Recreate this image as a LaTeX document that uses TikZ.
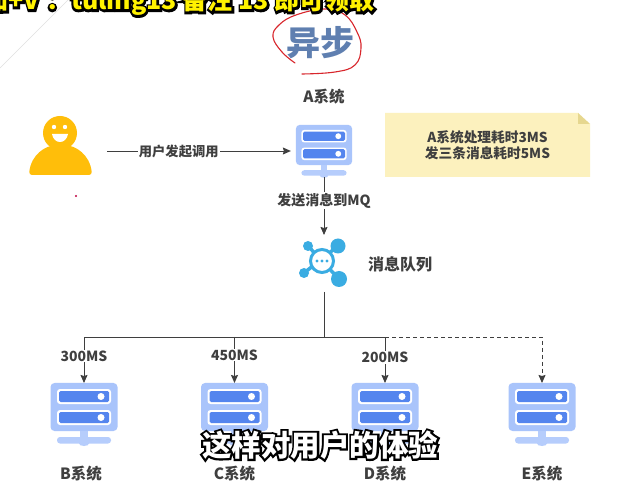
\documentclass[tikz,border=0pt]{standalone}
\usepackage{fontspec}
\setmainfont{Noto Sans CJK SC}
\usetikzlibrary{arrows.meta}
\definecolor{ink}{HTML}{3F3F3F}
\definecolor{rack}{HTML}{A9C4FB}
\definecolor{slot}{HTML}{5485EE}
\definecolor{hub}{HTML}{3AACE2}
\definecolor{smile}{HTML}{FFBE0A}
\definecolor{notepaper}{HTML}{FCF1BE}
\definecolor{notefold}{HTML}{E6D78F}
\definecolor{headline}{HTML}{5F7FB0}
\definecolor{penred}{HTML}{D8262C}
\newcommand{\strokedtext}[2]{\rlap{\color{black}\special{pdf:code 2 Tr #1 w}#2\special{pdf:code 0 Tr}}#2}

\begin{document}
\begin{tikzpicture}[
  x=1pt, y=-1pt,
  font=\bfseries\fontsize{14}{16}\selectfont,
  flow/.style ={-{Stealth[length=8pt, width=7pt, inset=1pt]}, draw=ink, line width=0.9pt},
  dep/.style  ={flow, dash pattern=on 4pt off 3pt},
  lbl/.style  ={text=ink, inner sep=1pt, fill=white},
  sys/.style  ={text=ink, font=\bfseries\fontsize{15.5}{18}\selectfont},
  hidden/.style={inner sep=0pt, outer sep=0pt},
  server/.pic={
    \node[hidden, fill=rack, rounded corners=4pt, transform shape,
          minimum width=67pt, minimum height=48pt] (-body) {};
    \fill[white, rounded corners=3pt] (-27,-18) rectangle (27,-3);
    \fill[white, rounded corners=3pt] (-27,3) rectangle (27,18);
    \fill[slot, rounded corners=1.5pt] (-25,-16) rectangle (25,-5);
    \fill[slot, rounded corners=1.5pt] (-25,5) rectangle (25,16);
    \fill[white] (17,-10.5) circle (3.5);
    \fill[white] (17,10.5) circle (3.5);
    \fill[rack!85!white] (-4,24) rectangle (4,32);
    \fill[rack!85!white, rounded corners=3pt] (-27,30) rectangle (27,36.5);
    \fill[rack!85!white] (0,36.5) ellipse (5 and 2.5);
    \coordinate (-foot) at (0,38);
  }
]
\useasboundingbox (0,0) rectangle (629,502);
\fill[white] (0,0) rectangle (629,502);

\draw[black!12, line width=0.7pt] (70,-2) -- (0,68);
\fill[purple] (76,196) circle (1.1);

% person
\fill[smile] (60,133) circle (17);
\fill[smile, rounded corners=3pt] (29,175) .. controls (31,155) and (45,145) .. (60.5,145)
  .. controls (76,145) and (90,155) .. (92,175) -- cycle;
\fill[white] (54,127) circle (2.2);
\fill[white] (65,127) circle (2.2);
\fill[white] (52,134) -- (68,134) .. controls (67,139) and (64,142) .. (60,142)
  .. controls (56,142) and (53,139) .. (52,134) -- cycle;
\node[hidden, minimum width=94pt, minimum height=50pt] (usr) at (60,151) {};

% servers
\pic[scale=0.84] (srvA) at (324,145) {server};
\pic (srvB) at (84,407) {server};
\pic (srvC) at (234.5,407) {server};
\pic (srvD) at (385,407) {server};
\pic (srvE) at (542,407) {server};

% message queue icon
\node[hidden, minimum width=50pt, minimum height=57pt] (mq) at (324,263.5) {};
\draw[hub, line width=3.5pt] (308,246) -- (339,279) (338,246) -- (304,273);
\fill[hub] (338,246) circle (7.5);
\fill[hub] (308,246) circle (5);
\fill[hub] (304,273) circle (5);
\fill[hub] (339,279) circle (8);
\fill[white] (322,261) circle (12);
\draw[hub, line width=3pt] (322,261) circle (11.5);
\fill[hub] (317,261) circle (1.7) (322,261) circle (1.7) (327,261) circle (1.7);

\node[sys] (labA) at (324,97) {A系统};
\node[sys, font=\bfseries\fontsize{16}{18}\selectfont] (labMq) at (400,264) {消息队列};
\node[sys] (labB) at (81,474) {B系统};
\node[sys] (labC) at (234.5,474) {C系统};
\node[sys] (labD) at (385,474) {D系统};
\node[sys] (labE) at (542,474) {E系统};

% note
\fill[notepaper] (385,113) -- (578,113) -- (590,124) -- (590,177) -- (385,177) -- cycle;
\fill[notefold] (578,113) -- (590,124) -- (578,124) -- cycle;
\node[text=ink, align=center, font=\bfseries\fontsize{13.7}{16}\selectfont] (note) at (487.5,145)
  {A系统处理耗时3MS\\发三条消息耗时5MS};

% connectors
\coordinate (tee) at (324,337);
\coordinate (busC) at (234.5,337);
\coordinate (busD) at (385,337);
\draw[flow, shorten >=5pt] (usr.east) -- node[lbl, pos=0.38, font=\bfseries\fontsize{13.3}{16}\selectfont] {用户发起调用} (usr.east -| srvA-body.west);
\draw[flow] (srvA-foot) -- node[lbl, pos=0.41] {发送消息到MQ} (mq.north);
\draw[ink, line width=0.9pt] (mq.south) -- (tee);
\draw[flow] (tee) -| node[lbl, pos=0.706] {300MS} (srvB-body.north);
\draw[flow] (busC) -- node[lbl, pos=0.39] {450MS} (srvC-body.north);
\draw[flow] (tee) -| node[lbl, pos=0.72] {200MS} (srvD-body.north);
\draw[dep] (busD) -| (srvE-body.north);

% title with the pen circle round it
\node[text=headline] (title) at (320,42.5) {\fontsize{34}{36}\selectfont 异步};
\draw[penred, line width=1.1pt, line cap=round] plot[smooth, tension=0.7] coordinates
  {(295,63) (282,52) (273,37) (279,25) (296,15) (325,9) (345,15) (357,32) (361,48) (355,65) (335,72) (302,74)};

% video overlays
\begin{scope}
  \clip (0,0) rectangle (629,40);
  \node[text=yellow, anchor=base east, inner sep=0pt] (banner) at (375,10)
    {\fontsize{25}{28}\selectfont\strokedtext{4}{加+V\kern6pt：tuling13 备注 13 即可领取}};
\end{scope}
\node[text=white, inner sep=0pt] (caption) at (320,445)
  {\fontsize{29.5}{32}\selectfont\strokedtext{4}{这样对用户的体验}};

\end{tikzpicture}
\end{document}
